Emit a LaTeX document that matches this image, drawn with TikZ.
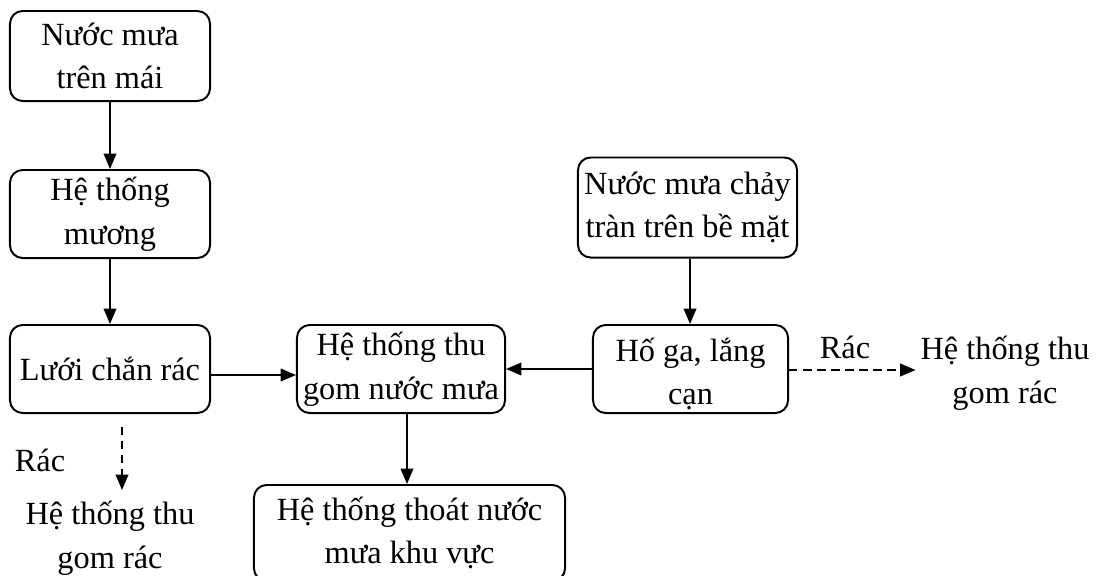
\documentclass[tikz,border=0pt]{standalone}
\usepackage{fontspec}
\setmainfont{Liberation Serif}
\usetikzlibrary{arrows.meta}

\begin{document}
\begin{tikzpicture}[x=0.025cm, y=-0.025cm,
  box/.style={draw, line width=1.4pt, rounded corners=9pt, align=center,
    font=\fontsize{23}{31}\selectfont, inner sep=2pt},
  plain/.style={align=center, font=\fontsize{23}{31}\selectfont},
  flow/.style={line width=1.3pt, -{Triangle[length=11pt, width=9pt]}},
  gap/.style={dash pattern=on 6pt off 4pt}]
\useasboundingbox (0,0) rectangle (1097,575);
% boxes
\node [box, minimum width=5cm, minimum height=2.25cm] (roof) at (110,56) {Nước mưa\\trên mái};
\node [box, minimum width=5cm, minimum height=2.2cm] (ditch) at (110,214) {Hệ thống\\mương};
\node [box, minimum width=5cm, minimum height=2.2cm] (screen) at (110,369) {Lưới chắn rác};
\node [box, minimum width=5.2cm, minimum height=2.2cm] (collect) at (401,369) {Hệ thống thu\\gom nước mưa};
\node [box, minimum width=5.475cm, minimum height=2.5cm] (runoff) at (687.5,207.5) {Nước mưa chảy\\tràn trên bề mặt};
\node [box, minimum width=4.875cm, minimum height=2.2cm] (pit) at (690.5,369) {};
\node [plain] (pittext) at ([yshift=-3.5pt]pit.center) {Hố ga, lắng\\cạn};
\node [box, minimum width=7.775cm, minimum height=2.4cm] (drain) at (409.5,533) {Hệ thống thoát nước\\mưa khu vực};
% free labels
\node [plain] (trashA) at (110,538) {Hệ thống thu\\gom rác};
\node [plain] (trashB) at (1005,373) {Hệ thống thu\\gom rác};
\node [plain] (rA) at (40,460) {Rác};
\node [plain] (rB) at (845,347) {Rác};
\coordinate (gA) at (122,490);
% arrows
\draw [flow] (roof) -- (ditch);
\draw [flow] (ditch) -- (screen);
\draw [flow] (screen.east |- 0,375) -- (collect.west |- 0,375);
\draw [flow] (pit.west |- 0,369) -- (collect.east |- 0,369);
\draw [flow] (runoff.south -| 690,0) -- (pit.north -| 690,0);
\draw [flow] (collect.south -| 407,0) -- (drain.north -| 407,0);
\draw [flow, gap] (pit.east |- 0,370) -- (trashB.west |- 0,370);
\draw [flow, gap, shorten <=9pt] (screen.south -| gA) -- (gA);
\end{tikzpicture}
\end{document}
